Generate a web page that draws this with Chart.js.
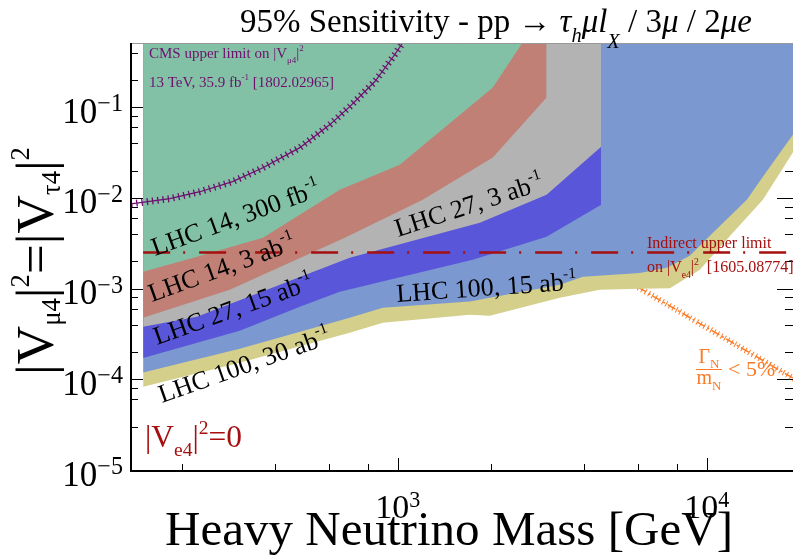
<!DOCTYPE html>
<html>
<head>
<meta charset="utf-8">
<script src="https://cdn.jsdelivr.net/npm/chart.js@4.4.1/dist/chart.umd.min.js"></script>
<style>
  html, body { margin: 0; padding: 0; background: #fff; }
  #wrap { width: 793px; height: 555px; position: relative; }
</style>
</head>
<body>
<div id="wrap"><canvas id="graphique"></canvas></div>
<script>
// Masses (GeV) et |V|^2, une paire de tableaux par bande
var massLhc14_300 = [150, 224, 366, 649, 1015, 2030, 2880];
var vLhc14_300 = [1.53e-3, 2.24e-3, 3.64e-3, 1.23e-2, 2.32e-2, 0.165, 1.0];

var massLhc14_3 = [150, 286, 674, 1204, 2030, 3030, 3030];
var vLhc14_3 = [4.76e-4, 9.7e-4, 3.64e-3, 9.55e-3, 2.78e-2, 0.128, 1.0];

var massLhc27_3 = [150, 224, 699, 1843, 3030, 4550, 4550];
var vLhc27_3 = [3.79e-4, 4.88e-4, 2.19e-3, 5.32e-3, 1.085e-2, 3.67e-2, 1.0];

var massLhc27_15 = [150, 308, 482, 649, 1748, 3030, 4550, 4550];
var vLhc27_15 = [1.72e-4, 3.42e-4, 6.3e-4, 9.22e-4, 2.08e-3, 3.73e-3, 8.41e-3, 1.0];

var massLhc100_15 = [150, 308, 699, 894, 1710, 3344, 3970, 6070, 7423, 8810, 10460, 13470, 15180, 18980, 20000];
var vLhc100_15 = [1.19e-4, 2.17e-4, 4.76e-4, 6.14e-4, 7.21e-4, 1.10e-3, 1.35e-3, 1.49e-3, 1.70e-3, 2.30e-3, 4.13e-3, 9.55e-3, 1.71e-2, 4.98e-2, 6.4e-2];

var massLhc100_30 = [150, 308, 699, 894, 1710, 1985, 3344, 4505, 6070, 7592, 9491, 12140, 15180, 18980, 20000];
var vLhc100_30 = [8.3e-5, 1.52e-4, 3.25e-4, 4.19e-4, 5.14e-4, 5.01e-4, 7.92e-4, 9.7e-4, 9.95e-4, 1.01e-3, 1.61e-3, 4.13e-3, 9.55e-3, 3.16e-2, 4.25e-2];

// Limite CMS (courbe hachuree)
var massCms = [137, 183, 229, 292, 366, 482, 603, 699, 843, 978, 1054];
var vCms = [8.6e-3, 9.8e-3, 1.17e-2, 1.51e-2, 2.15e-2, 3.58e-2, 6.43e-2, 0.1015, 0.192, 0.381, 0.557];

// Limite indirecte sur |Ve4|^2
var massIndirect = [150, 20000];
var vIndirect = [2.5e-3, 2.5e-3];

// Gamma_N / m_N < 5%
var massWidth = [6000, 20000];
var vWidth = [1.03e-3, 9.3e-5];

// Etiquettes des axes
var yDecades = [1e-5, 1e-4, 1e-3, 1e-2, 1e-1];
var yExponents = ["\u22125", "\u22124", "\u22123", "\u22122", "\u22121"];
var xDecades = [1e3, 1e4];
var xExponents = ["3", "4"];

var SERIF = '"Liberation Serif", "Times New Roman", serif';
var DARKRED = "#a50f0f";
var PURPLE = "#6e0f6e";
var ORANGE = "#fb7a26";

function paires(xs, ys) {
  var out = [];
  for (var i = 0; i < xs.length; i++) out.push({ x: xs[i], y: ys[i] });
  return out;
}

function bande(label, xs, ys, couleur, ordre) {
  return {
    label: label,
    data: paires(xs, ys),
    fill: "end",
    backgroundColor: couleur,
    borderColor: "transparent",
    borderWidth: 0,
    pointRadius: 0,
    order: ordre
  };
}

// texte avec indices / exposants
function drawRich(ctx, parts, x, y, size, color, measureOnly) {
  var cx = 0;
  ctx.textAlign = "left";
  ctx.textBaseline = "alphabetic";
  for (var i = 0; i < parts.length; i++) {
    var p = parts[i];
    var k = p.k || (p.s ? 0.62 : 1);
    var d = p.d !== undefined ? p.d : (p.s === "sub" ? 0.28 : (p.s === "sup" ? -0.42 : 0));
    ctx.font = (p.i ? "italic " : "") + (size * k).toFixed(2) + "px " + SERIF;
    if (!measureOnly) {
      ctx.fillStyle = color;
      ctx.fillText(p.t, x + cx, y + d * size);
    }
    cx += ctx.measureText(p.t).width;
  }
  return cx;
}

function fitSize(ctx, parts, size, width) {
  return size * width / drawRich(ctx, parts, 0, 0, size, "#000", true);
}

function rotated(ctx, parts, x, y, deg, size, color) {
  ctx.save();
  ctx.translate(x, y);
  ctx.rotate(-deg * Math.PI / 180);
  drawRich(ctx, parts, 0, 0, size, color);
  ctx.restore();
}

function isNice(v) {
  var e = Math.floor(Math.log10(v) + 1e-9);
  var m = v / Math.pow(10, e);
  return Math.abs(m - Math.round(m)) < 1e-6;
}
function isDecade(v) {
  var l = Math.log10(v);
  return Math.abs(l - Math.round(l)) < 1e-6;
}

// Graduations (dessinees sous les bandes, comme sur l'original)
var graduations = {
  id: "graduations",
  beforeDatasetsDraw: function(chart) {
    var ctx = chart.ctx, a = chart.chartArea;
    var xs = chart.scales.x, ys = chart.scales.y;
    ctx.save();
    ctx.strokeStyle = "#000";
    ctx.lineWidth = 1;
    ctx.beginPath();
    ys.ticks.forEach(function(t) {
      if (!isNice(t.value)) return;
      var maj = isDecade(t.value);
      var py = Math.round(ys.getPixelForValue(t.value)) + 0.5;
      ctx.moveTo(a.left, py); ctx.lineTo(a.left + (maj ? 13 : 8), py);
      ctx.moveTo(a.right, py); ctx.lineTo(a.right - (maj ? 16 : 8), py);
    });
    xs.ticks.forEach(function(t) {
      if (!isNice(t.value)) return;
      var maj = isDecade(t.value);
      var px = Math.round(xs.getPixelForValue(t.value)) + 0.5;
      ctx.moveTo(px, a.bottom); ctx.lineTo(px, a.bottom - (maj ? 12 : 6));
    });
    ctx.stroke();
    ctx.restore();
  },
  afterDatasetsDraw: function(chart) {
    var ctx = chart.ctx, a = chart.chartArea;
    var xs = chart.scales.x, ys = chart.scales.y;
    ctx.save();

    // cadre
    ctx.strokeStyle = "#999";
    ctx.lineWidth = 1;
    ctx.beginPath();
    ctx.moveTo(a.left, a.top + 0.5); ctx.lineTo(a.right, a.top + 0.5);
    ctx.stroke();
    ctx.strokeStyle = "#000";
    ctx.lineWidth = 2;
    ctx.beginPath();
    ctx.moveTo(a.left + 1, a.top); ctx.lineTo(a.left + 1, a.bottom + 1);
    ctx.lineTo(a.right, a.bottom + 1);
    ctx.stroke();

    // etiquettes des axes
    for (var i = 0; i < yDecades.length; i++) {
      var py = ys.getPixelForValue(yDecades[i]);
      var parts = [{ t: "10" }, { t: yExponents[i], k: 0.69, d: -0.33 }];
      var w = drawRich(ctx, parts, 0, 0, 35, "#000", true);
      drawRich(ctx, parts, 123 - w, py + 15.6, 35, "#000");
    }
    for (var j = 0; j < xDecades.length; j++) {
      var px = xs.getPixelForValue(xDecades[j]);
      var partsX = [{ t: "10" }, { t: xExponents[j], k: 0.65, d: -0.32 }];
      var wx = drawRich(ctx, partsX, 0, 0, 34, "#000", true);
      drawRich(ctx, partsX, px - wx / 2, 518, 34, "#000");
    }

    // titre
    var titre = [
      { t: "95% Sensitivity - pp \u2192 " },
      { t: "\u03c4", i: 1 }, { t: "h", i: 1, s: "sub", d: 0.3 },
      { t: "\u03bcl", i: 1 }, { t: "X", i: 1, s: "sub", d: 0.47 },
      { t: " / 3" }, { t: "\u03bc", i: 1 }, { t: " / 2" }, { t: "\u03bce", i: 1 }
    ];
    drawRich(ctx, titre, 240, 32, fitSize(ctx, titre, 30, 512), "#000");

    // titre axe x
    var titreX = [{ t: "Heavy Neutrino Mass [GeV]" }];
    drawRich(ctx, titreX, 165, 545, fitSize(ctx, titreX, 44, 568), "#000");

    // titre axe y
    var titreY = [
      { t: "|V" }, { t: "\u03bc4", s: "sub", k: 0.5, d: 0.14 }, { t: "|" }, { t: "2", s: "sup", k: 0.5, d: -0.45 },
      { t: "=" },
      { t: "|V" }, { t: "\u03c44", s: "sub", k: 0.5, d: 0.14 }, { t: "|" }, { t: "2", s: "sup", k: 0.5, d: -0.45 }
    ];
    rotated(ctx, titreY, 53, 375, 90, fitSize(ctx, titreY, 54, 228), "#000");

    // noms des bandes
    var sup = { t: "-1", s: "sup", k: 0.6, d: -0.45 };
    rotated(ctx, [{ t: "LHC 14, 300 fb" }, sup], 155, 256, 20, 26, "#000");
    rotated(ctx, [{ t: "LHC 14, 3 ab" }, sup], 152, 302, 20, 26, "#000");
    rotated(ctx, [{ t: "LHC 27, 15 ab" }, sup], 157, 345, 19.6, 26, "#000");
    rotated(ctx, [{ t: "LHC 27, 3 ab" }, sup], 398, 237, 18, 26, "#000");
    rotated(ctx, [{ t: "LHC 100, 15 ab" }, sup], 397, 302, 4, 26, "#000");
    rotated(ctx, [{ t: "LHC 100, 30 ab" }, sup], 162, 403, 19.5, 26, "#000");

    // texte CMS
    drawRich(ctx, [{ t: "CMS upper limit on |V" }, { t: "\u03bc4", s: "sub", k: 0.6, d: 0.35 }, { t: "|" }, { t: "2", s: "sup", k: 0.6, d: -0.45 }], 149, 58, 15, PURPLE);
    drawRich(ctx, [{ t: "13 TeV, 35.9 fb" }, { t: "-1", s: "sup", k: 0.6, d: -0.45 }, { t: " [1802.02965]" }], 149, 87, 15, PURPLE);

    // limite indirecte
    drawRich(ctx, [{ t: "Indirect upper limit" }], 647, 248, 16, DARKRED);
    drawRich(ctx, [{ t: "on |V" }, { t: "e4", s: "sub", k: 0.6, d: 0.35 }, { t: "|" }, { t: "2", s: "sup", k: 0.6, d: -0.45 }, { t: "  [1605.08774]" }], 647, 272, 16, DARKRED);

    // |Ve4|^2 = 0
    var ve4 = [{ t: "|V" }, { t: "e4", s: "sub", k: 0.62, d: 0.3 }, { t: "|" }, { t: "2", s: "sup", k: 0.62, d: -0.42 }, { t: "=0" }];
    drawRich(ctx, ve4, 145, 447, fitSize(ctx, ve4, 32, 97), DARKRED);

    // Gamma_N / m_N < 5%
    var num = [{ t: "\u0393" }, { t: "N", s: "sub", k: 0.65, d: 0.25 }];
    var den = [{ t: "m" }, { t: "N", s: "sub", k: 0.65, d: 0.3 }];
    var wn = drawRich(ctx, num, 0, 0, 20, ORANGE, true);
    var wd = drawRich(ctx, den, 0, 0, 20, ORANGE, true);
    drawRich(ctx, num, 709 - wn / 2, 363, 20, ORANGE);
    drawRich(ctx, den, 709 - wd / 2, 384, 20, ORANGE);
    ctx.strokeStyle = ORANGE;
    ctx.lineWidth = 1;
    ctx.beginPath();
    ctx.moveTo(696, 369.5); ctx.lineTo(722, 369.5);
    ctx.stroke();
    drawRich(ctx, [{ t: "< 5%" }], 728, 376, 22, ORANGE);

    ctx.restore();
  }
};

var ctx = document.getElementById("graphique").getContext("2d");

var chart = new Chart(ctx, {
  type: "line",
  data: {
    datasets: [
      {
        label: "Gamma hachures",
        data: paires(massWidth, vWidth),
        borderColor: ORANGE,
        borderWidth: 6,
        borderDash: [1, 3],
        pointRadius: 0,
        fill: false,
        order: 12
      },
      {
        label: "Gamma / m < 5%",
        data: paires(massWidth, vWidth),
        borderColor: ORANGE,
        borderWidth: 1.5,
        borderDash: [9, 3, 2, 3],
        pointRadius: 0,
        fill: false,
        order: 11
      },
      bande("LHC 100, 30 ab-1", massLhc100_30, vLhc100_30, "#d4cf8a", 6),
      bande("LHC 100, 15 ab-1", massLhc100_15, vLhc100_15, "#7b99d0", 5),
      bande("LHC 27, 15 ab-1", massLhc27_15, vLhc27_15, "#5956da", 4),
      bande("LHC 27, 3 ab-1", massLhc27_3, vLhc27_3, "#b3b3b3", 3),
      bande("LHC 14, 3 ab-1", massLhc14_3, vLhc14_3, "#c08076", 2),
      bande("LHC 14, 300 fb-1", massLhc14_300, vLhc14_300, "#83c1a6", 1),
      {
        label: "CMS hachures",
        data: paires(massCms, vCms),
        borderColor: PURPLE,
        borderWidth: 7,
        borderDash: [1.3, 4],
        pointRadius: 0,
        fill: false,
        order: 0
      },
      {
        label: "CMS",
        data: paires(massCms, vCms),
        borderColor: PURPLE,
        borderWidth: 1.2,
        pointRadius: 0,
        fill: false,
        order: -1
      },
      {
        label: "Indirect",
        data: paires(massIndirect, vIndirect),
        borderColor: DARKRED,
        borderWidth: 2.5,
        borderDash: [27, 13, 2, 14],
        pointRadius: 0,
        fill: false,
        order: -2
      }
    ]
  },
  options: {
    responsive: true,
    maintainAspectRatio: false,
    devicePixelRatio: 1,
    animation: false,
    events: [],
    layout: { padding: { left: 130, top: 43, right: 0, bottom: 85 } },
    elements: { line: { tension: 0 } },
    scales: {
      x: { type: "logarithmic", min: 136, max: 19000, display: false },
      y: { type: "logarithmic", min: 1e-5, max: 0.51, display: false }
    },
    plugins: {
      legend: { display: false },
      tooltip: { enabled: false },
      filler: { propagate: false }
    }
  },
  plugins: [graduations]
});
</script>
</body>
</html>
